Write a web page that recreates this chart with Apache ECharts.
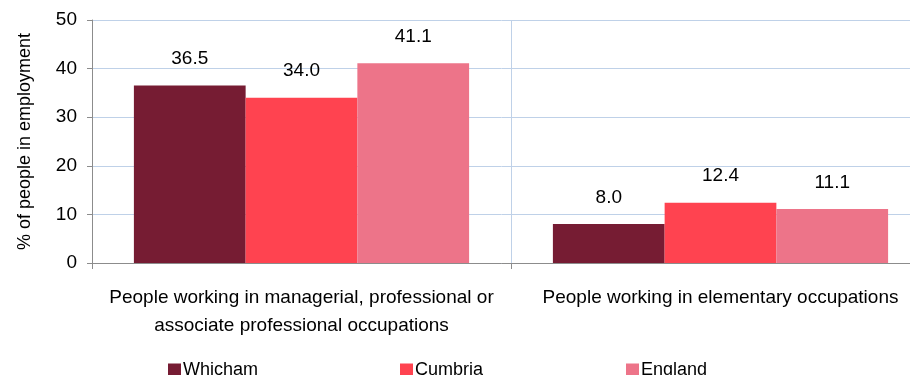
<!DOCTYPE html>
<html>
<head>
<meta charset="utf-8">
<script src="https://cdn.jsdelivr.net/npm/echarts@6/dist/echarts.min.js"></script>
<style>
html, body { margin: 0; padding: 0; background: #fff; }
#chart { width: 910px; height: 375px; }
</style>
</head>
<body>
<div id="chart"></div>
<script>
// Occupation groups shown on the category axis
const categories = [
  'People working in managerial, professional or\nassociate professional occupations',
  'People working in elementary occupations'
];
// Share of people in employment (%)
const whicham = [36.5, 8.0];
const cumbria = [34.0, 12.4];
const england = [41.1, 11.1];
const seriesNames = ['Whicham', 'Cumbria', 'England'];
const yTicks = { min: 0, max: 50, interval: 10 };

const colors = ['#761c33', '#ff4350', '#ed7489'];
const font = 'Liberation Sans, Arial, sans-serif';
const gridColor = '#bfd1e8';
const axisColor = '#8c8c8c';

const chart = echarts.init(document.getElementById('chart'));

function barSeries(name, data, color) {
  return {
    name: name,
    type: 'bar',
    data: data,
    itemStyle: { color: color },
    barGap: '0%',
    barCategoryGap: '20%',
    label: {
      show: true,
      position: 'top',
      distance: 17,
      color: '#000',
      fontFamily: font,
      fontSize: 19,
      formatter: p => p.value.toFixed(1)
    }
  };
}

function legendAt(name, left) {
  return {
    data: [name],
    left: left,
    top: 356,
    itemWidth: 13,
    itemHeight: 13,
    itemGap: 0,
    icon: 'rect',
    textStyle: { fontFamily: font, fontSize: 18, color: '#000', padding: [0, 0, 0, -3] }
  };
}

chart.setOption({
  animation: false,
  color: colors,
  legend: [
    legendAt('Whicham', 163),
    legendAt('Cumbria', 395),
    legendAt('England', 621)
  ],
  // plot area runs past the right edge of the canvas
  grid: { left: 92, top: 20, width: 838, height: 243, outerBoundsMode: 'none', containLabel: false },
  xAxis: {
    type: 'category',
    data: categories,
    axisLine: { lineStyle: { color: axisColor, width: 1 } },
    axisTick: { show: true, length: 6, lineStyle: { color: axisColor } },
    splitLine: { show: true, lineStyle: { color: gridColor } },
    axisLabel: {
      color: '#000',
      fontFamily: font,
      fontSize: 19,
      lineHeight: 28,
      margin: 21,
      interval: 0
    }
  },
  yAxis: {
    type: 'value',
    min: yTicks.min,
    max: yTicks.max,
    interval: yTicks.interval,
    name: '% of people in employment',
    nameLocation: 'middle',
    nameGap: 58,
    nameTextStyle: { color: '#000', fontFamily: font, fontSize: 18 },
    axisLine: { show: true, lineStyle: { color: axisColor } },
    axisTick: { show: true, length: 5, lineStyle: { color: axisColor } },
    splitLine: { lineStyle: { color: gridColor } },
    axisLabel: { color: '#000', fontFamily: font, fontSize: 19, margin: 15 }
  },
  series: [
    barSeries(seriesNames[0], whicham, colors[0]),
    barSeries(seriesNames[1], cumbria, colors[1]),
    barSeries(seriesNames[2], england, colors[2])
  ]
});
</script>
</body>
</html>
